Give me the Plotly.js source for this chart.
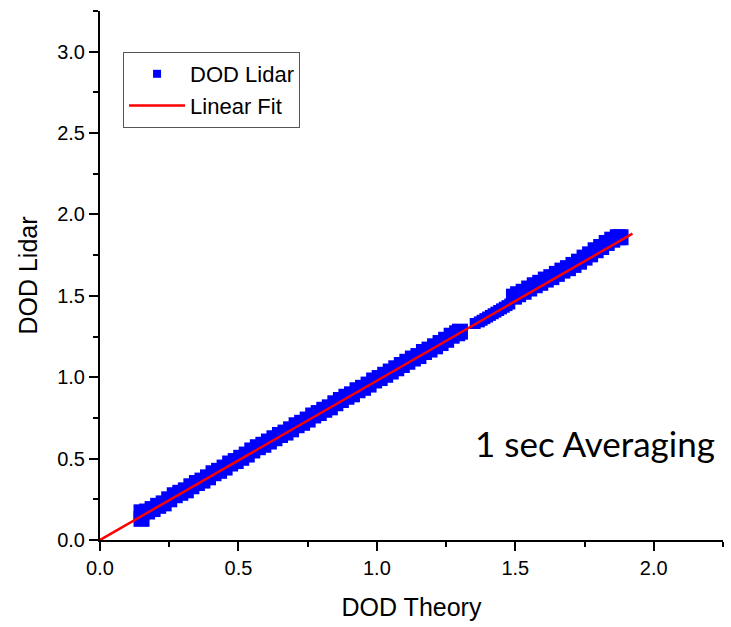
<!DOCTYPE html>
<html>
<head>
<meta charset="utf-8">
<script src="https://cdn.plot.ly/plotly-3.0.1.min.js"></script>
<style>html,body{margin:0;padding:0;background:#fff;}#chart{width:731px;height:627px;}</style>
</head>
<body>
<div id="chart"></div>
<script>
// DOD Lidar measurements (main band)
const lidarX = [0.15,0.15,0.17,0.19,0.21,0.23,0.25,0.27,0.29,0.31,0.33,0.35,0.37,0.39,0.41,0.43,0.45,0.47,0.49,0.51,0.53,0.55,0.57,0.59,0.61,0.63,0.65,0.67,0.69,0.71,0.73,0.75,0.77,0.79,0.81,0.83,0.85,0.87,0.89,0.91,0.93,0.95,0.97,0.99,1.01,1.03,1.05,1.07,1.09,1.11,1.13,1.15,1.17,1.19,1.21,1.23,1.25,1.27,1.29,1.30,1.495,1.51,1.53,1.55,1.57,1.59,1.61,1.63,1.65,1.67,1.69,1.71,1.73,1.75,1.77,1.79,1.81,1.83,1.85,1.87,1.88];
const lidarY = [0.13,0.17,0.175,0.19,0.21,0.225,0.25,0.275,0.29,0.305,0.33,0.35,0.365,0.385,0.41,0.425,0.445,0.47,0.485,0.505,0.525,0.55,0.57,0.585,0.605,0.625,0.645,0.66,0.68,0.705,0.72,0.74,0.765,0.78,0.80,0.815,0.84,0.86,0.88,0.895,0.92,0.935,0.955,0.98,0.995,1.015,1.035,1.055,1.075,1.095,1.115,1.13,1.155,1.17,1.19,1.21,1.23,1.255,1.27,1.28,1.495,1.51,1.525,1.545,1.565,1.58,1.60,1.615,1.635,1.655,1.67,1.69,1.71,1.735,1.755,1.78,1.80,1.825,1.845,1.86,1.86];
// DOD Lidar measurements (narrow segment)
const lidarX2 = [1.355,1.37,1.38,1.39,1.40,1.41,1.42,1.43,1.44,1.45,1.46,1.47,1.48];
const lidarY2 = [1.33,1.34,1.35,1.36,1.37,1.38,1.39,1.40,1.41,1.42,1.43,1.44,1.45];
// Linear fit
const fitX = [0, 1.923];
const fitY = [0, 1.882];
const xTicks = [0, 0.5, 1.0, 1.5, 2.0];
const yTicks = [0, 0.5, 1.0, 1.5, 2.0, 2.5, 3.0];

const blue = '#0000FF';
const traces = [
  {x: lidarX, y: lidarY, type: 'scatter', mode: 'markers', name: 'DOD Lidar', showlegend: false, legendgroup: 'l',
   marker: {symbol: 'square', size: 16, color: blue}},
  {x: lidarX2, y: lidarY2, type: 'scatter', mode: 'markers', name: 'DOD Lidar', showlegend: false, legendgroup: 'l',
   marker: {symbol: 'square', size: 11, color: blue}},
  {x: [null], y: [null], type: 'scatter', mode: 'markers', name: 'DOD Lidar', legendgroup: 'l',
   marker: {symbol: 'square', size: 8, color: blue}},
  {x: fitX, y: fitY, type: 'scatter', mode: 'lines', name: 'Linear Fit',
   line: {color: '#FF0000', width: 2.5}}
];

const axisCommon = {
  showgrid: false, zeroline: false, showline: true, linecolor: '#000', linewidth: 2,
  ticks: 'outside', ticklen: 9, tickwidth: 2, tickcolor: '#000',
  tickfont: {family: 'Liberation Sans, Arial, sans-serif', size: 20, color: '#000'},
  minor: {ticks: 'outside', ticklen: 5, tickwidth: 2, tickcolor: '#000', dtick: 0.25},
  mirror: false
};

const layout = {
  width: 731, height: 627,
  margin: {l: 100, r: 8, t: 11, b: 87},
  paper_bgcolor: '#fff', plot_bgcolor: '#fff',
  showlegend: true,
  xaxis: Object.assign({}, axisCommon, {
    range: [0, 2.25], tickvals: xTicks, ticktext: xTicks.map(v => v.toFixed(1)),
    title: {text: 'DOD Theory', font: {family: 'Liberation Sans, Arial, sans-serif', size: 25, color: '#000'}, standoff: 20}
  }),
  yaxis: Object.assign({}, axisCommon, {
    range: [0, 3.25], tickvals: yTicks, ticktext: yTicks.map(v => v.toFixed(1)),
    title: {text: 'DOD Lidar', font: {family: 'Liberation Sans, Arial, sans-serif', size: 25, color: '#000'}, standoff: 12}
  }),
  legend: {
    x: 0.037, y: 0.9225, xanchor: 'left', yanchor: 'top',
    bgcolor: '#fff', bordercolor: '#555', borderwidth: 1,
    font: {family: 'Liberation Sans, Arial, sans-serif', size: 22, color: '#000'},
    itemwidth: 56, tracegroupgap: 0
  },
  annotations: [{
    text: '1 sec Averaging', xref: 'paper', yref: 'paper', x: 0.7945, y: 0.1834,
    xanchor: 'center', yanchor: 'middle', showarrow: false,
    font: {family: 'Lato, Noto Sans, sans-serif', size: 35, color: '#000'}
  }]
};

Plotly.newPlot('chart', traces, layout, {displayModeBar: false, staticPlot: true});
</script>
</body>
</html>
